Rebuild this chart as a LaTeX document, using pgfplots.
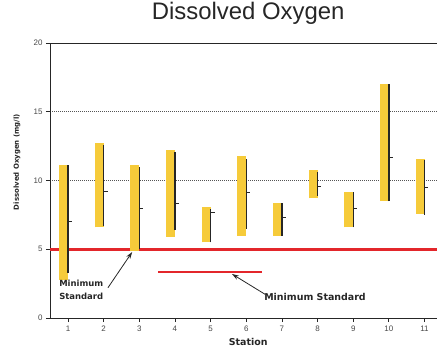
\documentclass[border=0pt]{standalone}
\usepackage{fontspec}
\setmainfont{Liberation Sans}
\newfontfamily\dvs{DejaVu Sans}
\usepackage{pgfplots}
\usepackage{pgfplotstable}
\pgfplotsset{compat=1.18}
\usetikzlibrary{arrows.meta}

\definecolor{doyellow}{HTML}{F6CB3A}
\definecolor{dored}{HTML}{E3262B}
\definecolor{doink}{HTML}{262626}
\definecolor{dogrid}{HTML}{555555}

% station, range (lo--hi), mean, dark line range (blo--bhi)
\pgfplotstableread{
st lo hi mean blo bhi
1 2.8 11.1 7.0 3.3 11.1
2 6.6 12.7 9.2 6.7 12.6
3 4.9 11.1 8.0 5.0 11.0
4 5.9 12.2 8.3 6.4 12.1
5 5.5 8.1 7.7 5.5 7.9
6 6.0 11.8 9.1 6.5 11.6
7 6.0 8.4 7.3 6.0 8.4
8 8.7 10.8 9.6 8.9 10.6
9 6.6 9.2 8.0 6.6 9.2
10 8.5 17.0 11.7 8.5 17.0
11 7.6 11.6 9.5 7.5 11.5
}\dotable

\begin{document}
\begin{tikzpicture}
\begin{axis}[
  at={(0,0)}, anchor=south west,
  scale only axis, width=387bp, height=275bp,
  xmin=0.495, xmax=11.35, ymin=0, ymax=20,
  clip=false,
  axis x line*=bottom, axis y line*=left,
  axis line style={doink, line width=0.9bp, -},
  xtick={1,...,11}, ytick={0,5,10,15,20},
  tick align=outside, major tick length=4bp,
  tick style={doink, line width=0.8bp},
  ymajorgrids,
  grid style={dogrid, line width=0.8bp, dash pattern=on 1.2bp off 0.8bp},
  tick label style={font=\fontsize{8}{9}\selectfont, text=doink!85},
  /pgf/number format/assume math mode=true,
  title={Dissolved Oxygen},
  title style={at={(axis description cs:0.512,1.065)}, anchor=base,
    font=\fontsize{24}{28}\selectfont, text=doink},
  xlabel={Station},
  xlabel style={at={(axis description cs:0.512,-0.087)}, anchor=center,
    font=\dvs\bfseries\fontsize{9.5}{11}\selectfont, text=doink},
  ylabel={Dissolved Oxygen (mg/l)},
  ylabel style={at={(axis description cs:-0.085,0.567)}, anchor=center,
    font=\dvs\bfseries\fontsize{7}{8}\selectfont, text=doink},
]
% top frame line
\addplot[doink, line width=0.9bp, forget plot] coordinates {(0.495,20) (11.35,20)};
% minimum standard
\addplot[dored, line width=3.5bp, forget plot] coordinates {(0.495,5) (11.35,5)};
\addplot[dored, line width=1.8bp, forget plot] coordinates {(3.52,3.35) (6.44,3.35)};
% range bars
\addplot[draw=none, mark=none, forget plot,
  error bars/.cd, y dir=plus, y explicit, error mark=none,
  error bar style={draw=doyellow, line width=9bp, line cap=butt, solid}]
  table[x expr=\thisrow{st}-0.125, y=lo, y error expr=\thisrow{hi}-\thisrow{lo}] {\dotable};
\addplot[draw=none, mark=none, forget plot,
  error bars/.cd, y dir=plus, y explicit, error mark=none,
  error bar style={draw=doink, line width=1.4bp, line cap=butt, solid}]
  table[x=st, y=blo, y error expr=\thisrow{bhi}-\thisrow{blo}] {\dotable};
% means
\addplot[draw=none, mark=none, forget plot,
  error bars/.cd, x dir=plus, x fixed=0.11, error mark=none,
  error bar style={draw=doink, line width=1bp, solid}]
  table[x=st, y=mean] {\dotable};
% annotations
\node[anchor=north west, align=left, inner sep=0, text=doink,
  font=\dvs\bfseries\fontsize{8.5}{13}\selectfont]
  at (axis cs:0.75,2.75) {Minimum\\Standard};
\draw[-{Stealth[length=7bp,width=4.5bp]}, doink, line width=0.8bp]
  (axis cs:2.12,2.2) -- (axis cs:2.80,4.8);
\node[anchor=west, inner sep=0, text=doink,
  font=\dvs\bfseries\fontsize{9.5}{11}\selectfont]
  at (axis cs:6.50,1.53) {Minimum Standard};
\draw[-{Stealth[length=7bp,width=4.5bp]}, doink, line width=0.8bp]
  (axis cs:6.53,1.72) -- (axis cs:5.60,3.2);
\end{axis}
\pgfresetboundingbox
\useasboundingbox (-50bp,-31bp) rectangle (387bp,318bp);
\end{tikzpicture}
\end{document}
